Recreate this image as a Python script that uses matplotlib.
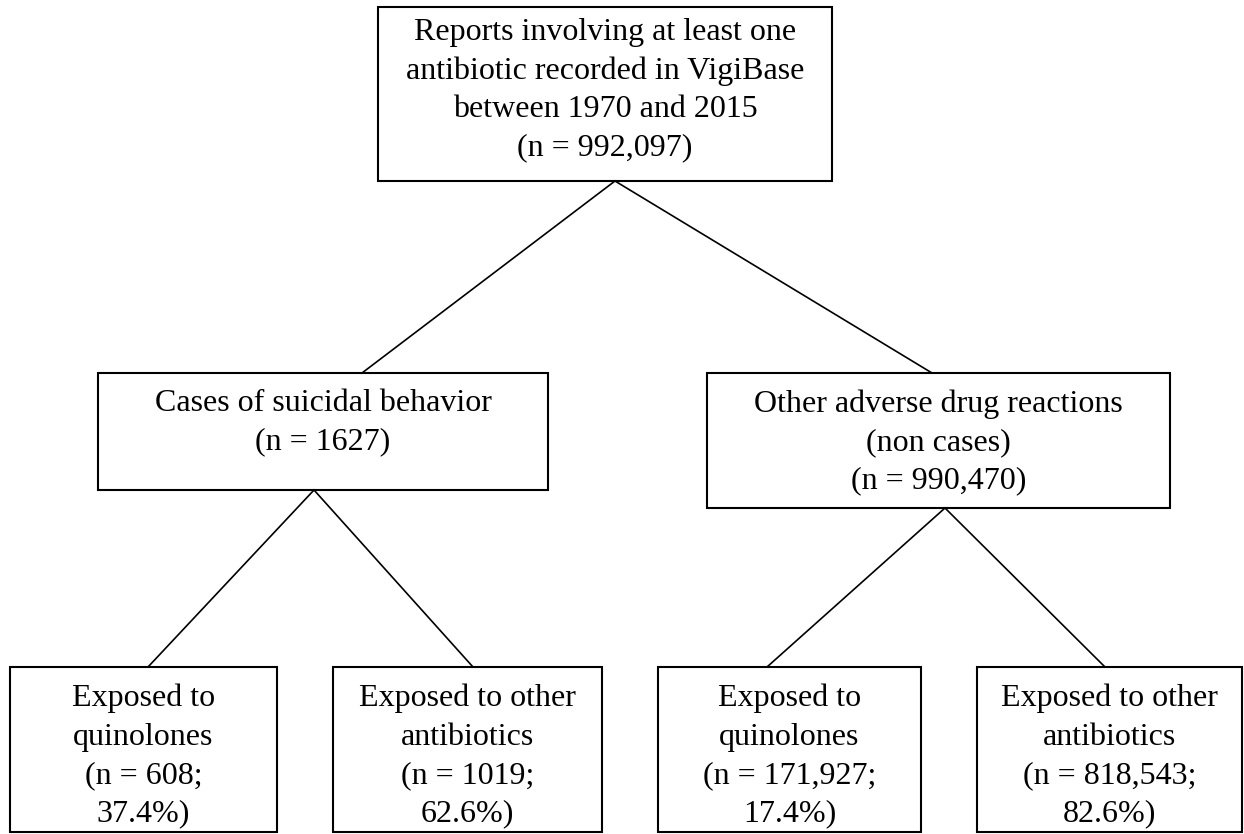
import matplotlib.pyplot as plt
from matplotlib.patches import Rectangle

# -------------------------
# Data
# -------------------------
top_label = "Reports involving at least one\nantibiotic recorded in VigiBase\nbetween 1970 and 2015"
top_n = "992,097"

group_labels = ["Cases of suicidal behavior", "Other adverse drug reactions\n(non cases)"]
group_n = ["1627", "990,470"]

exposure_labels = ["Exposed to\nquinolones", "Exposed to other\nantibiotics",
                   "Exposed to\nquinolones", "Exposed to other\nantibiotics"]
exposure_n = ["608", "1019", "171,927", "818,543"]
exposure_pct = ["37.4%", "62.6%", "17.4%", "82.6%"]

# -------------------------
# Layout (pixel coords, y down)
# -------------------------
top_box = (378, 7, 832, 181)
top_text_y = 90

mid_boxes = [(98, 373, 548, 490), (707, 373, 1170, 508)]
mid_text_y = [423, 442]

bot_boxes = [(10, 667, 277, 832), (333, 667, 602, 832),
             (658, 667, 921, 832), (977, 667, 1242, 832)]
bot_text_y = 756

top_apex = (615, 181)
top_ends = [(362, 373), (932, 373)]
mid_apex = [(314, 490), (945, 508)]
bot_ends = [(148, 667), (473, 667), (767, 667), (1105, 667)]

fig = plt.figure(figsize=(12.44, 8.34), dpi=100)
ax = fig.add_axes([0, 0, 1, 1])
ax.set_xlim(0, 1244)
ax.set_ylim(834, 0)
ax.axis("off")

fs = 23
ls = 1.42


def box(b, text, ty):
    x0, y0, x1, y1 = b
    ax.add_patch(Rectangle((x0, y0), x1 - x0, y1 - y0, fill=False,
                           edgecolor="black", linewidth=1.5))
    ax.text((x0 + x1) / 2, ty, text, ha="center", va="center",
            fontsize=fs, linespacing=ls, family=["Liberation Serif"])


box(top_box, f"{top_label}\n(n = {top_n})", top_text_y)

for b, lab, n, ty in zip(mid_boxes, group_labels, group_n, mid_text_y):
    box(b, f"{lab}\n(n = {n})", ty)

for b, lab, n, p in zip(bot_boxes, exposure_labels, exposure_n, exposure_pct):
    box(b, f"{lab}\n(n = {n};\n{p})", bot_text_y)

# connectors
for ex, ey in top_ends:
    ax.plot([top_apex[0], ex], [top_apex[1], ey], color="black", linewidth=1.2)

for i, (ax_x, ax_y) in enumerate(mid_apex):
    for ex, ey in bot_ends[2 * i:2 * i + 2]:
        ax.plot([ax_x, ex], [ax_y, ey], color="black", linewidth=1.2)

fig.savefig("out.png", dpi=100)
